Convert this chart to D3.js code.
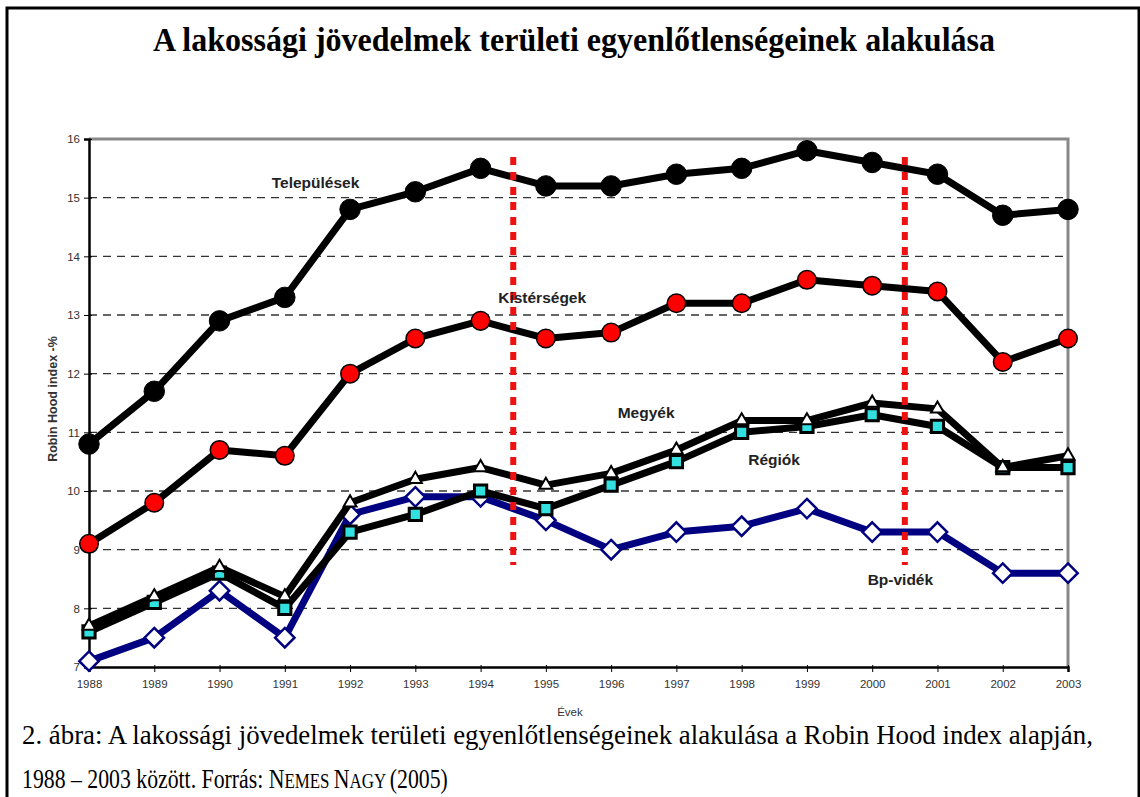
<!DOCTYPE html>
<html lang="hu">
<head>
<meta charset="utf-8">
<title>Robin Hood index</title>
<script src="https://cdn.jsdelivr.net/npm/d3@7"></script>
<style>
  body { margin: 0; background: #fff; }
  svg { display: block; }
</style>
</head>
<body>
<script>
// years on the x axis
var years = [1988, 1989, 1990, 1991, 1992, 1993, 1994, 1995, 1996, 1997, 1998, 1999, 2000, 2001, 2002, 2003];
var yTicks = [7, 8, 9, 10, 11, 12, 13, 14, 15, 16];

// series values, Robin Hood index %
var telepulesek = [10.8, 11.7, 12.9, 13.3, 14.8, 15.1, 15.5, 15.2, 15.2, 15.4, 15.5, 15.8, 15.6, 15.4, 14.7, 14.8];
var kistersegek = [9.1, 9.8, 10.7, 10.6, 12.0, 12.6, 12.9, 12.6, 12.7, 13.2, 13.2, 13.6, 13.5, 13.4, 12.2, 12.6];
var megyek      = [7.7, 8.2, 8.7, 8.2, 9.8, 10.2, 10.4, 10.1, 10.3, 10.7, 11.2, 11.2, 11.5, 11.4, 10.4, 10.6];
var regiok      = [7.6, 8.1, 8.6, 8.0, 9.3, 9.6, 10.0, 9.7, 10.1, 10.5, 11.0, 11.1, 11.3, 11.1, 10.4, 10.4];
var bpVidek     = [7.1, 7.5, 8.3, 7.5, 9.6, 9.9, 9.9, 9.5, 9.0, 9.3, 9.4, 9.7, 9.3, 9.3, 8.6, 8.6];

// period breaks (between years)
var breaks = [1994.5, 2000.5];

// label texts with the point they sit near (year, value)
var labels = [
  {text: "Települések", year: 1990.8, value: 15.17},
  {text: "Kistérségek", year: 1994.27, value: 13.2},
  {text: "Megyék", year: 1996.1, value: 11.25},
  {text: "Régiók", year: 1998.1, value: 10.45},
  {text: "Bp-vidék", year: 1999.93, value: 8.4}
];

var W = 1140, H = 797;
var svg = d3.select("body").append("svg").attr("width", W).attr("height", H);

// outer frame
svg.append("rect")
  .attr("x", 7).attr("y", 8).attr("width", 1132).attr("height", 800)
  .attr("fill", "none").attr("stroke", "#000").attr("stroke-width", 3);

// title
svg.append("text")
  .attr("x", 153).attr("y", 51)
  .attr("textLength", 842).attr("lengthAdjust", "spacingAndGlyphs")
  .attr("font-family", "'Liberation Serif', 'Times New Roman', serif")
  .attr("font-weight", "bold").attr("font-size", 34)
  .text("A lakossági jövedelmek területi egyenlőtlenségeinek alakulása");

var x = d3.scaleLinear().domain([1988, 2003]).range([89, 1068]);
var y = d3.scaleLinear().domain([7, 16]).range([667, 139]);

// dashed grid
svg.append("g").selectAll("line")
  .data(yTicks.filter(function(d){ return d > 7 && d < 16; }))
  .enter().append("line")
  .attr("x1", x(1988)).attr("x2", x(2003))
  .attr("y1", function(d){ return y(d); }).attr("y2", function(d){ return y(d); })
  .attr("stroke", "#333").attr("stroke-width", 1.3)
  .attr("stroke-dasharray", "8,6");

// grey top and right border of plot
svg.append("path")
  .attr("d", "M" + x(1988) + "," + y(16) + "H" + x(2003) + "V" + y(7))
  .attr("fill", "none").attr("stroke", "#888").attr("stroke-width", 3);

// axes
var xAxis = d3.axisBottom(x).tickValues(years).tickFormat(d3.format("d")).tickSize(5).tickPadding(8);
var gx = svg.append("g").attr("transform", "translate(0," + y(7) + ")").call(xAxis);
gx.select(".domain").attr("stroke", "#000").attr("stroke-width", 2.5);
gx.selectAll(".tick line").attr("stroke", "#000").attr("y1", -2);
gx.selectAll("text").attr("font-family", "'Liberation Sans', Arial, sans-serif")
  .attr("font-size", 11.5).attr("fill", "#333");

var yAxis = d3.axisLeft(y).tickValues(yTicks).tickSize(5).tickPadding(4);
var gy = svg.append("g").attr("transform", "translate(" + x(1988) + ",0)").call(yAxis);
gy.select(".domain").attr("stroke", "#000").attr("stroke-width", 2.5);
gy.selectAll(".tick line").attr("stroke", "#000").attr("x2", -5).attr("x1", 3);
gy.selectAll("text").attr("font-family", "'Liberation Sans', Arial, sans-serif")
  .attr("font-size", 11.5).attr("fill", "#333");

// axis titles
svg.append("text")
  .attr("transform", "translate(57,399) rotate(-90)")
  .attr("text-anchor", "middle")
  .attr("font-family", "'Liberation Sans', Arial, sans-serif")
  .attr("font-weight", "bold").attr("font-size", 12.5).attr("fill", "#333")
  .text("Robin Hood index -%");

svg.append("text")
  .attr("x", 570).attr("y", 716).attr("text-anchor", "middle")
  .attr("font-family", "'Liberation Sans', Arial, sans-serif")
  .attr("font-size", 11.5).attr("fill", "#333")
  .text("Évek");

// series
var line = d3.line()
  .x(function(d, i){ return x(years[i]); })
  .y(function(d){ return y(d); });

var series = [
  {values: bpVidek, lineColor: "#000080", marker: "diamond", fill: "#fff", stroke: "#000080"},
  {values: regiok, lineColor: "#000", marker: "square", fill: "#33e0e0", stroke: "#000"},
  {values: megyek, lineColor: "#000", marker: "triangle", fill: "#fff", stroke: "#000"},
  {values: kistersegek, lineColor: "#000", marker: "circleSmall", fill: "#f00", stroke: "#000"},
  {values: telepulesek, lineColor: "#000", marker: "circle", fill: "#000", stroke: "#000"}
];

var shapes = {
  diamond:     {type: d3.symbolDiamond2, size: 240, sw: 2.5},
  square:      {type: d3.symbolSquare2, size: 190, sw: 3},
  triangle:    {type: d3.symbolTriangle2, size: 120, sw: 2},
  circleSmall: {type: d3.symbolCircle, size: 270, sw: 1.5},
  circle:      {type: d3.symbolCircle, size: 330, sw: 1}
};

series.forEach(function(s) {
  svg.append("path")
    .datum(s.values)
    .attr("d", line)
    .attr("fill", "none")
    .attr("stroke", s.lineColor)
    .attr("stroke-width", 7)
    .attr("stroke-linejoin", "round");

  var sh = shapes[s.marker];
  svg.append("g").selectAll("path")
    .data(s.values)
    .enter().append("path")
    .attr("transform", function(d, i){ return "translate(" + x(years[i]) + "," + y(d) + ")"; })
    .attr("d", d3.symbol().type(sh.type).size(sh.size))
    .attr("fill", s.fill)
    .attr("stroke", s.stroke)
    .attr("stroke-width", sh.sw);
});

// red dotted break lines
svg.append("g").selectAll("line")
  .data(breaks)
  .enter().append("line")
  .attr("x1", function(d){ return x(d); }).attr("x2", function(d){ return x(d); })
  .attr("y1", 157).attr("y2", 565)
  .attr("stroke", "#ee1111").attr("stroke-width", 6)
  .attr("stroke-dasharray", "8,7");

// series labels
svg.append("g").selectAll("text")
  .data(labels)
  .enter().append("text")
  .attr("x", function(d){ return x(d.year); })
  .attr("y", function(d){ return y(d.value); })
  .attr("font-family", "'Liberation Sans', Arial, sans-serif")
  .attr("font-weight", "bold").attr("font-size", 15.5).attr("fill", "#222")
  .text(function(d){ return d.text; });

// caption, squeezed horizontally like the scanned original
var serif = "'Liberation Serif', 'Times New Roman', serif";
function captionLine(yPos, width, build) {
  var g = svg.append("g");
  var t = g.append("text")
    .attr("font-family", serif).attr("font-size", 27).attr("fill", "#000");
  build(t);
  var w = t.node().getComputedTextLength();
  g.attr("transform", "translate(22," + yPos + ") scale(" + (width / w) + ",1)");
}

captionLine(744, 1071, function(t) {
  t.text("2. ábra: A lakossági jövedelmek területi egyenlőtlenségeinek alakulása a Robin Hood index alapján,");
});

captionLine(788, 426, function(t) {
  t.append("tspan").text("1988 – 2003 között. Forrás: N");
  t.append("tspan").attr("font-size", 21).text("EMES ");
  t.append("tspan").text("N");
  t.append("tspan").attr("font-size", 21).text("AGY ");
  t.append("tspan").text("(2005)");
});
</script>
</body>
</html>
